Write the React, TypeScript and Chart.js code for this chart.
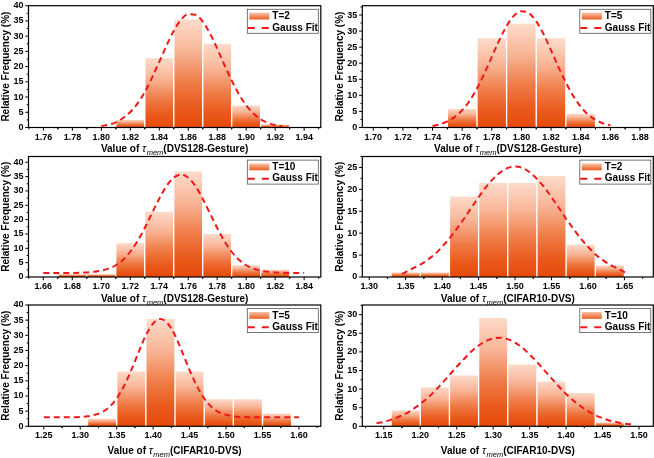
import React, { useEffect, useRef } from "react";
import { Chart, registerables } from "chart.js";

Chart.register(...registerables);

// ---------------- DATA ----------------
// Panel 1: DVS128-Gesture, T=2
const p1Bins = [1.82, 1.84, 1.86, 1.88, 1.9, 1.92];
const p1Freq = [2.7, 23.0, 35.7, 27.7, 7.4, 1.2];
const p1FitX = [1.8, 1.805, 1.81, 1.815, 1.82, 1.825, 1.83, 1.835, 1.84, 1.845, 1.85, 1.855, 1.86, 1.865, 1.87, 1.875, 1.88, 1.885, 1.89, 1.895, 1.9, 1.905, 1.91, 1.915, 1.92, 1.925];
const p1FitY = [0.5, 0.9, 1.7, 3.1, 5.1, 7.9, 11.7, 16.4, 21.6, 26.9, 31.8, 35.4, 37.2, 37.0, 34.8, 30.9, 25.9, 20.5, 15.4, 10.9, 7.3, 4.6, 2.7, 1.5, 0.8, 0.4];
const p1XTicks = [1.76, 1.78, 1.8, 1.82, 1.84, 1.86, 1.88, 1.9, 1.92, 1.94];
const p1YTicks = [0, 5, 10, 15, 20, 25, 30, 35, 40];

// Panel 2: DVS128-Gesture, T=5
const p2Bins = [1.76, 1.78, 1.8, 1.82, 1.84];
const p2Freq = [6.0, 28.0, 32.5, 28.0, 4.4];
const p2FitX = [1.74, 1.745, 1.75, 1.755, 1.76, 1.765, 1.77, 1.775, 1.78, 1.785, 1.79, 1.795, 1.8, 1.805, 1.81, 1.815, 1.82, 1.825, 1.83, 1.835, 1.84, 1.845, 1.85, 1.855, 1.86];
const p2FitY = [0.5, 1.0, 1.9, 3.3, 5.4, 8.3, 12.2, 16.8, 22.0, 27.1, 31.6, 34.8, 36.2, 35.6, 33.0, 29.0, 24.0, 18.8, 14.0, 9.8, 6.5, 4.0, 2.4, 1.3, 0.7];
const p2XTicks = [1.7, 1.72, 1.74, 1.76, 1.78, 1.8, 1.82, 1.84, 1.86, 1.88];
const p2YTicks = [0, 5, 10, 15, 20, 25, 30, 35];

// Panel 3: DVS128-Gesture, T=10
const p3Bins = [1.68, 1.7, 1.72, 1.74, 1.76, 1.78, 1.8, 1.82];
const p3Freq = [1.2, 1.2, 12.0, 23.0, 37.0, 15.2, 4.3, 2.8];
const p3FitX = [1.66, 1.67, 1.68, 1.69, 1.695, 1.7, 1.705, 1.71, 1.715, 1.72, 1.725, 1.73, 1.735, 1.74, 1.745, 1.75, 1.755, 1.76, 1.765, 1.77, 1.775, 1.78, 1.785, 1.79, 1.795, 1.8, 1.805, 1.81, 1.815, 1.82, 1.83, 1.84];
const p3FitY = [1.4, 1.4, 1.4, 1.6, 1.8, 2.2, 2.9, 4.1, 6.0, 8.8, 12.5, 17.1, 22.2, 27.3, 31.7, 34.6, 35.7, 34.6, 31.7, 27.3, 22.2, 17.1, 12.5, 8.8, 6.0, 4.1, 2.9, 2.2, 1.8, 1.6, 1.4, 1.4];
const p3XTicks = [1.66, 1.68, 1.7, 1.72, 1.74, 1.76, 1.78, 1.8, 1.82, 1.84];
const p3YTicks = [0, 5, 10, 15, 20, 25, 30, 35, 40];

// Panel 4: CIFAR10-DVS, T=2
const p4Bins = [1.35, 1.39, 1.43, 1.47, 1.51, 1.55, 1.59, 1.63];
const p4Freq = [1.2, 1.2, 18.5, 21.6, 21.6, 23.2, 7.5, 2.8];
const p4FitX = [1.345, 1.36, 1.37, 1.38, 1.39, 1.4, 1.41, 1.42, 1.43, 1.44, 1.45, 1.46, 1.47, 1.48, 1.49, 1.5, 1.51, 1.52, 1.53, 1.54, 1.55, 1.56, 1.57, 1.58, 1.59, 1.6, 1.61, 1.62, 1.63, 1.64, 1.655];
const p4FitY = [0.7, 2.0, 2.8, 3.9, 5.2, 6.9, 8.8, 11.0, 13.3, 15.8, 18.2, 20.5, 22.4, 23.9, 24.9, 25.2, 24.9, 23.9, 22.4, 20.5, 18.2, 15.8, 13.3, 11.0, 8.8, 6.9, 5.2, 3.9, 2.8, 2.0, 0.7];
const p4XTicks = [1.3, 1.35, 1.4, 1.45, 1.5, 1.55, 1.6, 1.65];
const p4YTicks = [0, 5, 10, 15, 20, 25];

// Panel 5: CIFAR10-DVS, T=5
const p5Bins = [1.33, 1.37, 1.41, 1.45, 1.49, 1.53, 1.57];
const p5Freq = [2.7, 18.3, 35.6, 18.3, 9.1, 9.1, 4.4];
const p5FitX = [1.25, 1.27, 1.29, 1.3, 1.31, 1.32, 1.33, 1.34, 1.35, 1.36, 1.37, 1.38, 1.39, 1.4, 1.41, 1.42, 1.43, 1.44, 1.45, 1.46, 1.47, 1.48, 1.49, 1.5, 1.51, 1.52, 1.54, 1.56, 1.58, 1.6];
const p5FitY = [3.0, 3.0, 3.0, 3.1, 3.3, 3.8, 4.7, 6.4, 9.2, 13.3, 18.5, 24.4, 30.0, 33.9, 35.4, 33.9, 30.0, 24.4, 18.5, 13.3, 9.2, 6.4, 4.7, 3.8, 3.3, 3.1, 3.0, 3.0, 3.0, 3.0];
const p5XTicks = [1.25, 1.3, 1.35, 1.4, 1.45, 1.5, 1.55, 1.6];
const p5YTicks = [0, 5, 10, 15, 20, 25, 30, 35, 40];

// Panel 6: CIFAR10-DVS, T=10
const p6Bins = [1.18, 1.22, 1.26, 1.3, 1.34, 1.38, 1.42, 1.46];
const p6Freq = [4.4, 10.6, 13.8, 29.3, 16.8, 12.2, 9.1, 1.2];
const p6FitX = [1.14, 1.15, 1.16, 1.17, 1.18, 1.19, 1.2, 1.21, 1.22, 1.23, 1.24, 1.25, 1.26, 1.27, 1.28, 1.29, 1.3, 1.31, 1.32, 1.33, 1.34, 1.35, 1.36, 1.37, 1.38, 1.39, 1.4, 1.41, 1.42, 1.43, 1.44, 1.45, 1.46, 1.47, 1.48, 1.49];
const p6FitY = [0.8, 1.2, 1.8, 2.5, 3.4, 4.6, 6.0, 7.6, 9.5, 11.6, 13.8, 16.0, 18.1, 20.1, 21.7, 22.9, 23.6, 23.8, 23.4, 22.5, 21.1, 19.3, 17.3, 15.1, 12.9, 10.7, 8.7, 6.9, 5.4, 4.1, 3.0, 2.2, 1.5, 1.1, 0.7, 0.5];
const p6XTicks = [1.15, 1.2, 1.25, 1.3, 1.35, 1.4, 1.45, 1.5];
const p6YTicks = [0, 5, 10, 15, 20, 25, 30];

const seriesLabels = ["T=2", "T=5", "T=10", "T=2", "T=5", "T=10"];
const datasetNames = ["DVS128-Gesture", "DVS128-Gesture", "DVS128-Gesture", "CIFAR10-DVS", "CIFAR10-DVS", "CIFAR10-DVS"];
const xRanges = [
  [1.7497, 1.9515],
  [1.6926, 1.889],
  [1.6498, 1.8515],
  [1.2905, 1.6896],
  [1.229, 1.63],
  [1.1205, 1.5196],
];
const yMaxes = [40, 37.9, 42, 27.5, 40, 32.6];

// ---------------- LAYOUT (positions only) ----------------
const W = 654;
const H = 458;
const YW = 20;
const XH = 20;
const ROWS = [
  { top: 5.7, bottom: 127.5, titleDy: 21 },
  { top: 156.5, bottom: 277, titleDy: 21.5 },
  { top: 305, bottom: 426.3, titleDy: 24 },
];
const COLS = [
  { left: 28.5, right: 320.8 },
  { left: 362.3, right: 653.3 },
];
const PANEL_POS = [
  [0, 0],
  [0, 1],
  [1, 0],
  [1, 1],
  [2, 0],
  [2, 1],
];

const FONT = "'Liberation Sans', Arial, sans-serif";
const RED = "#f01818";

function addBarStops(g: CanvasGradient) {
  g.addColorStop(0, "#fddccd");
  g.addColorStop(0.3, "#f8b596");
  g.addColorStop(0.6, "#ef7a45");
  g.addColorStop(0.82, "#e95a1c");
  g.addColorStop(1, "#e6490a");
}

type PanelDef = {
  bins: number[];
  freq: number[];
  fitX: number[];
  fitY: number[];
  xTicks: number[];
  yTicks: number[];
  label: string;
  dataset: string;
  xMin: number;
  xMax: number;
  yMax: number;
  xStep: number;
  row: number;
  col: number;
};

const binsList = [p1Bins, p2Bins, p3Bins, p4Bins, p5Bins, p6Bins];
const freqList = [p1Freq, p2Freq, p3Freq, p4Freq, p5Freq, p6Freq];
const fitXList = [p1FitX, p2FitX, p3FitX, p4FitX, p5FitX, p6FitX];
const fitYList = [p1FitY, p2FitY, p3FitY, p4FitY, p5FitY, p6FitY];
const xTickList = [p1XTicks, p2XTicks, p3XTicks, p4XTicks, p5XTicks, p6XTicks];
const yTickList = [p1YTicks, p2YTicks, p3YTicks, p4YTicks, p5YTicks, p6YTicks];

const PANELS: PanelDef[] = binsList.map((bins, i) => ({
  bins,
  freq: freqList[i],
  fitX: fitXList[i],
  fitY: fitYList[i],
  xTicks: xTickList[i],
  yTicks: yTickList[i],
  label: seriesLabels[i],
  dataset: datasetNames[i],
  xMin: xRanges[i][0],
  xMax: xRanges[i][1],
  yMax: yMaxes[i],
  xStep: xTickList[i][1] - xTickList[i][0],
  row: PANEL_POS[i][0],
  col: PANEL_POS[i][1],
}));

function decorPlugin(p: PanelDef) {
  return {
    id: "decor",
    afterDatasetsDraw(chart: any) {
      const ctx: CanvasRenderingContext2D = chart.ctx;
      const { left, right, top, bottom } = chart.chartArea;
      const xs = chart.scales.x;
      const ys = chart.scales.y;
      ctx.save();
      // frame
      ctx.strokeStyle = "#000";
      ctx.lineWidth = 1.2;
      ctx.strokeRect(left, top, right - left, bottom - top);
      // ticks
      ctx.lineWidth = 1;
      const half = p.xStep / 2;
      const eps = 1e-9;
      ctx.beginPath();
      for (const t of p.xTicks) {
        const px = xs.getPixelForValue(t);
        ctx.moveTo(px, bottom);
        ctx.lineTo(px, bottom + 3.2);
      }
      for (const t of p.xTicks) {
        for (const m of [t - half, t + half]) {
          if (m < p.xMin - eps || m > p.xMax + eps) continue;
          const px = xs.getPixelForValue(m);
          ctx.moveTo(px, bottom);
          ctx.lineTo(px, bottom + 1.8);
        }
      }
      for (const t of p.yTicks) {
        const py = ys.getPixelForValue(t);
        ctx.moveTo(left, py);
        ctx.lineTo(left - 3.2, py);
      }
      for (const t of p.yTicks) {
        const m = t + 2.5;
        if (m > p.yMax) continue;
        const py = ys.getPixelForValue(m);
        ctx.moveTo(left, py);
        ctx.lineTo(left - 1.8, py);
      }
      ctx.stroke();

      // legend
      const lw = 71;
      const lh = 24;
      const lx = right - lw - 2.5;
      const ly = top + 3.6;
      ctx.fillStyle = "#fff";
      ctx.fillRect(lx, ly, lw, lh);
      ctx.strokeStyle = "#555";
      ctx.lineWidth = 0.8;
      ctx.strokeRect(lx, ly, lw, lh);
      const sg = ctx.createLinearGradient(0, ly + 3.4, 0, ly + 10.2);
      sg.addColorStop(0, "#f9c2a6");
      sg.addColorStop(1, "#ea5c20");
      ctx.fillStyle = sg;
      ctx.fillRect(lx + 2, ly + 3.4, 20, 6.8);
      ctx.fillStyle = "#000";
      ctx.font = `bold 10px ${FONT}`;
      ctx.textAlign = "left";
      ctx.textBaseline = "middle";
      ctx.fillText(p.label, lx + 25, ly + 7.2);
      ctx.fillText("Gauss Fit", lx + 25, ly + 18.6);
      ctx.strokeStyle = RED;
      ctx.lineWidth = 2;
      ctx.setLineDash([7, 7]);
      ctx.beginPath();
      ctx.moveTo(lx + 0.5, ly + 18.6);
      ctx.lineTo(lx + 22, ly + 18.6);
      ctx.stroke();
      ctx.setLineDash([]);

      // y title
      ctx.save();
      ctx.translate(left - 22.5, (top + bottom) / 2);
      ctx.rotate(-Math.PI / 2);
      ctx.font = `bold 10px ${FONT}`;
      ctx.textAlign = "center";
      ctx.textBaseline = "middle";
      ctx.fillStyle = "#000";
      ctx.fillText("Relative Frequency (%)", 0, 0);
      ctx.restore();

      // x title with tau_mem
      const row = ROWS[p.row];
      const baseY = bottom + row.titleDy + 3.4;
      const f1 = `bold 10px ${FONT}`;
      const fTau = `italic 11px ${FONT}`;
      const fSub = `italic 7.5px ${FONT}`;
      const s1 = "Value of ";
      const s2 = "\u03c4";
      const s3 = "mem";
      const s4 = `(${p.dataset})`;
      ctx.font = f1;
      const w1 = ctx.measureText(s1).width;
      const w4 = ctx.measureText(s4).width;
      ctx.font = fTau;
      const w2 = ctx.measureText(s2).width;
      ctx.font = fSub;
      const w3 = ctx.measureText(s3).width;
      const total = w1 + w2 + 0.5 + w3 + w4;
      let x = (left + right) / 2 - total / 2;
      ctx.textAlign = "left";
      ctx.textBaseline = "alphabetic";
      ctx.fillStyle = "#000";
      ctx.font = f1;
      ctx.fillText(s1, x, baseY);
      x += w1;
      ctx.font = fTau;
      ctx.fillText(s2, x, baseY);
      x += w2 + 0.5;
      ctx.font = fSub;
      ctx.fillText(s3, x, baseY + 2.8);
      x += w3;
      ctx.font = f1;
      ctx.fillText(s4, x, baseY);
      ctx.restore();
    },
  };
}

function Panel({ p }: { p: PanelDef }) {
  const ref = useRef<HTMLCanvasElement | null>(null);
  useEffect(() => {
    if (!ref.current) return;
    const row = ROWS[p.row];
    const col = COLS[p.col];
    const tickFont = { family: FONT, size: 9, weight: "bold" as const };
    const chart = new Chart(ref.current, {
      type: "bar",
      data: {
        datasets: [
          {
            type: "line" as const,
            label: "Gauss Fit",
            data: p.fitX.map((x, i) => ({ x, y: p.fitY[i] })),
            borderColor: RED,
            borderWidth: 2,
            borderDash: [6, 4],
            pointRadius: 0,
            fill: false,
            cubicInterpolationMode: "monotone" as const,
            order: 0,
          },
          {
            type: "bar" as const,
            label: p.label,
            data: p.bins.map((x, i) => ({ x, y: p.freq[i] })),
            backgroundColor: (c: any) => {
              const ch = c.chart;
              const ys = ch.scales && ch.scales.y;
              if (!ys || c.type !== "data" || !c.parsed) return "#ee7640";
              const t = ys.getPixelForValue(c.parsed.y);
              const b = ys.getPixelForValue(0);
              if (!isFinite(t) || !isFinite(b) || b - t < 0.5) return "#ee7640";
              const g = ch.ctx.createLinearGradient(0, t, 0, b);
              addBarStops(g);
              return g;
            },
            borderColor: "#ffffff",
            borderWidth: 1,
            barPercentage: 1,
            categoryPercentage: 1,
            order: 1,
          },
        ] as any,
      },
      options: {
        responsive: false,
        animation: false,
        events: [],
        layout: {
          padding: {
            left: col.left - YW,
            top: row.top,
            right: W - col.right,
            bottom: H - row.bottom - XH,
          },
        },
        plugins: {
          legend: { display: false },
          tooltip: { enabled: false },
          title: { display: false },
        },
        scales: {
          x: {
            type: "linear",
            min: p.xMin,
            max: p.xMax,
            offset: false,
            grid: { display: false, drawTicks: true, tickLength: 3 },
            border: { display: false },
            ticks: {
              font: tickFont,
              color: "#000",
              padding: 1.2,
              autoSkip: false,
              maxRotation: 0,
              callback: (v: any) => Number(v).toFixed(2),
            },
            afterBuildTicks: (s: any) => {
              s.ticks = p.xTicks.map((v) => ({ value: v }));
            },
            afterFit: (s: any) => {
              s.height = XH;
              s.paddingLeft = 0;
              s.paddingRight = 0;
            },
          },
          y: {
            type: "linear",
            min: 0,
            max: p.yMax,
            grid: { display: false, drawTicks: true, tickLength: 3 },
            border: { display: false },
            ticks: {
              font: tickFont,
              color: "#000",
              padding: 2,
              autoSkip: false,
              callback: (v: any) => String(v),
            },
            afterBuildTicks: (s: any) => {
              s.ticks = p.yTicks.map((v) => ({ value: v }));
            },
            afterFit: (s: any) => {
              s.width = YW;
              s.paddingTop = 0;
              s.paddingBottom = 0;
            },
          },
        },
      } as any,
      plugins: [decorPlugin(p)],
    });
    return () => chart.destroy();
  }, [p]);
  return (
    <canvas
      ref={ref}
      width={W}
      height={H}
      style={{ position: "absolute", left: 0, top: 0, width: W, height: H }}
    />
  );
}

export default function App() {
  return (
    <div
      style={{
        position: "absolute",
        left: 0,
        top: 0,
        width: W,
        height: H,
        background: "#fff",
        overflow: "hidden",
      }}
    >
      {PANELS.map((p, i) => (
        <Panel key={i} p={p} />
      ))}
    </div>
  );
}
